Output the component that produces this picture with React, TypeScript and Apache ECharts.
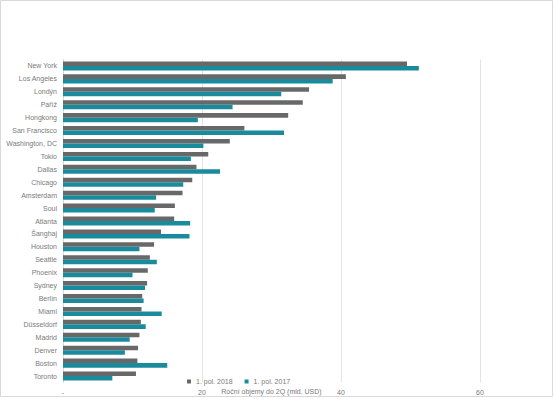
import React, { useEffect, useRef } from "react";
import * as echarts from "echarts";

const categories = [
  "New York", "Los Angeles", "Londýn", "Paříž", "Hongkong", "San Francisco",
  "Washington, DC", "Tokio", "Dallas", "Chicago", "Amsterdam", "Soul", "Atlanta",
  "Šanghaj", "Houston", "Seattle", "Phoenix", "Sydney", "Berlín", "Miami",
  "Düsseldorf", "Madrid", "Denver", "Boston", "Toronto",
];

const values2018 = [
  49.5, 40.7, 35.4, 34.5, 32.4, 26.1, 24.0, 20.9, 19.2, 18.6, 17.2, 16.1, 16.0,
  14.1, 13.1, 12.5, 12.2, 12.1, 11.4, 11.3, 11.2, 11.0, 10.8, 10.7, 10.5,
];

const values2017 = [
  51.2, 38.8, 31.4, 24.4, 19.4, 31.8, 20.2, 18.4, 22.6, 17.3, 13.4, 13.2, 18.3,
  18.2, 11.0, 13.5, 10.0, 11.8, 11.6, 14.2, 11.9, 9.6, 8.9, 15.0, 7.1,
];

const seriesNames = ["1. pol. 2018", "1. pol. 2017"];
const axisName = "Roční objemy do 2Q (mld. USD)";

export default function App() {
  const ref = useRef<HTMLDivElement>(null);
  useEffect(() => {
    document.body.style.margin = "0";
    const chart = echarts.init(ref.current!, null, { renderer: "svg" });
    const font = "Liberation Sans";
    const txt = "#7a7a7a";
    chart.setOption({
      animation: false,
      backgroundColor: "#ffffff",
      textStyle: { fontFamily: font },
      graphic: [
        {
          type: "rect",
          shape: { x: 0.5, y: 0.5, width: 552, height: 396 },
          style: { fill: "none", stroke: "#d9d9d9", lineWidth: 1 },
          silent: true,
        },
      ],
      legend: {
        data: seriesNames,
        left: 187,
        top: 378,
        itemWidth: 4,
        itemHeight: 4,
        itemGap: 12,
        icon: "rect",
        textStyle: { fontSize: 7, color: txt, fontFamily: font },
        padding: 0,
      },
      grid: {
        left: 63,
        right: 75,
        top: 59.5,
        bottom: 16.5,
        containLabel: false,
        outerBoundsMode: "none",
      },
      xAxis: {
        type: "value",
        min: 0,
        max: 60,
        interval: 20,
        name: axisName,
        nameLocation: "middle",
        nameGap: 5,
        nameMoveOverlap: false,
        nameTextStyle: { fontSize: 7, color: txt, verticalAlign: "top" },
        axisLine: { show: false },
        axisTick: { show: false },
        axisLabel: {
          fontSize: 7,
          color: txt,
          margin: 6,
          formatter: (v: number) => (v === 0 ? "-" : String(v)),
        },
        splitLine: { lineStyle: { color: "#e3e3e3", width: 1 } },
      },
      yAxis: {
        type: "category",
        data: categories,
        inverse: true,
        axisLine: { show: true, lineStyle: { color: "#d9d9d9" } },
        axisTick: { show: false },
        axisLabel: { fontSize: 7, color: txt, margin: 6 },
      },
      series: [
        {
          name: seriesNames[0],
          type: "bar",
          data: values2018,
          itemStyle: { color: "#686868" },
          barGap: "0%",
          barCategoryGap: "30%",
        },
        {
          name: seriesNames[1],
          type: "bar",
          data: values2017,
          itemStyle: { color: "#1a8b9d" },
          barGap: "0%",
          barCategoryGap: "30%",
        },
      ],
    });
    return () => chart.dispose();
  }, []);
  return <div ref={ref} style={{ width: 555, height: 399 }} />;
}
